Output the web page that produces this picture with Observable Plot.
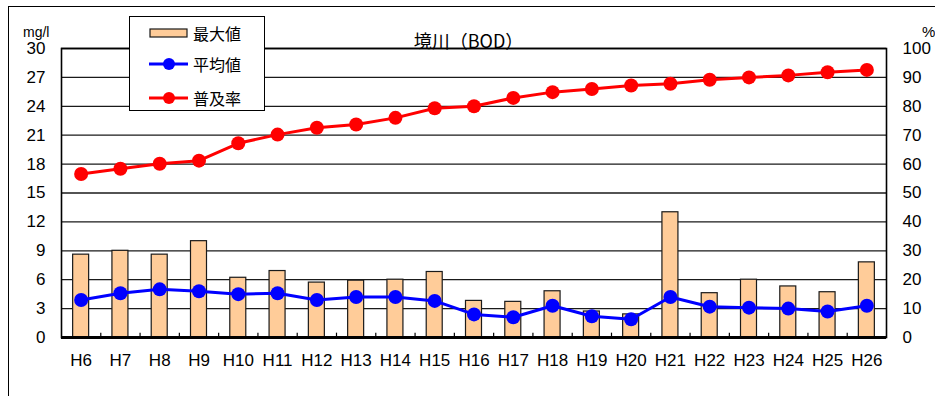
<!DOCTYPE html>
<html><head><meta charset="utf-8">
<script src="https://cdn.jsdelivr.net/npm/d3@7"></script>
<script src="https://cdn.jsdelivr.net/npm/@observablehq/plot@0.6"></script>
<style>
body{margin:0;background:#fff;}
#wrap{position:relative;width:935px;height:396px;overflow:hidden;font-family:"Liberation Sans",Arial,sans-serif;color:#000;}
#frame{position:absolute;left:8px;top:6px;width:1000px;height:500px;border:1.5px solid #000;box-sizing:border-box;}
#chart{position:absolute;left:0;top:0;}
.lbl{position:absolute;white-space:nowrap;line-height:1;}
#legend{position:absolute;left:129px;top:16px;width:136px;height:95px;border:1.5px solid #000;background:#fff;box-sizing:border-box;}
.row{position:absolute;left:0;height:20px;width:130px;}
.row span{position:absolute;left:63px;top:0;font-family:"Noto Sans CJK JP",sans-serif;font-size:16px;line-height:20px;}
.row svg{position:absolute;left:19px;top:0;}
</style></head><body>
<div id="wrap">
  <div id="frame"></div>
  <div id="chart"></div>
  <div class="lbl" style="left:23px;top:25px;font-size:14px;">mg/l</div>
  <div class="lbl" style="left:922px;top:24px;font-size:15px;">%</div>
  <div class="lbl" id="title" style="left:0;width:937px;text-align:center;top:31px;font-family:'Noto Sans CJK JP',sans-serif;font-size:18px;">境川（BOD）</div>
  <div id="legend"></div>
</div>
<script>
const years = ["H6","H7","H8","H9","H10","H11","H12","H13","H14","H15","H16","H17","H18","H19","H20","H21","H22","H23","H24","H25","H26"];
const maxVals = [8.6, 9.0, 8.6, 10.0, 6.2, 6.9, 5.7, 5.9, 6.0, 6.8, 3.8, 3.7, 4.8, 2.7, 2.4, 13.0, 4.6, 6.0, 5.3, 4.7, 7.8];
const avgVals = [3.9, 4.6, 5.0, 4.8, 4.5, 4.6, 3.9, 4.2, 4.2, 3.8, 2.4, 2.1, 3.3, 2.2, 1.9, 4.2, 3.2, 3.1, 3.0, 2.7, 3.3];
const rateVals = [56.6, 58.4, 60.1, 61.2, 67.2, 70.2, 72.6, 73.7, 76.0, 79.3, 80.0, 82.9, 84.9, 86.0, 87.2, 87.8, 89.2, 90.0, 90.7, 91.8, 92.6];
const leftTicks = [0,3,6,9,12,15,18,21,24,27,30];
const rightTickLabels = [0,10,20,30,40,50,60,70,80,90,100];
const seriesNames = ["最大値","平均値","普及率"];
const colors = {bar:"#FFCC99", avg:"#0000FF", rate:"#FF0000"};

const rows = years.map((y,i)=>({year:y, max:maxVals[i], avg:avgVals[i], rate:rateVals[i]}));
const W = 935, H = 396, mL = 61, mR = 49, mT = 48, mB = 59;
const bw = (W - mL - mR) / years.length;
const barW = 16;
const inset = (bw - barW) / 2;
const leftMax = leftTicks[leftTicks.length-1];
const rightMax = rightTickLabels[rightTickLabels.length-1];
const toLeft = v => v * leftMax / rightMax;

const chart = Plot.plot({
  width: W, height: H,
  marginLeft: mL, marginRight: mR, marginTop: mT, marginBottom: mB,
  style: {fontFamily: "'Liberation Sans', Arial, sans-serif", fontSize: "17px", color:"#000", background:"transparent"},
  x: {type:"band", domain: years, paddingInner: 0, paddingOuter: 0, round: false, label: null},
  y: {domain: [0, leftMax], label: null},
  marks: [
    Plot.ruleY(leftTicks.slice(1), {stroke:"#1a1a1a", strokeWidth:1.3}),
    Plot.barY(rows, {x:"year", y:"max", fill: colors.bar, stroke:"#1a1a1a", strokeWidth:1.2, insetLeft: inset, insetRight: inset}),
    Plot.ruleX(years.slice(1), {x: d=>d, dx: -bw/2, y1: 0, y2: 0.45, stroke:"#000", strokeWidth:1.2}),
    Plot.line(rows, {x:"year", y:"avg", stroke: colors.avg, strokeWidth:3}),
    Plot.dot(rows, {x:"year", y:"avg", fill: colors.avg, r:7, stroke:"none"}),
    Plot.line(rows, {x:"year", y: d=>toLeft(d.rate), stroke: colors.rate, strokeWidth:3}),
    Plot.dot(rows, {x:"year", y: d=>toLeft(d.rate), fill: colors.rate, r:7, stroke:"none"}),
    Plot.frame({stroke:"#000", strokeWidth:1.6}),
    Plot.ruleY([0], {stroke:"#000", strokeWidth:3}),
    Plot.axisY(leftTicks, {anchor:"left", tickSize:0, tickPadding:16, label:null, fontSize:17}),
    Plot.axisY(leftTicks, {anchor:"right", tickSize:0, tickPadding:16, label:null, fontSize:17,
      tickFormat: d => String(rightTickLabels[leftTicks.indexOf(d)])}),
    Plot.axisX(years, {anchor:"bottom", tickSize:0, tickPadding:16, label:null, fontSize:17})
  ]
});
document.getElementById("chart").appendChild(chart);

// legend
const legend = document.getElementById("legend");
const rowTops = [6, 37, 71];
seriesNames.forEach((name, i) => {
  const r = document.createElement("div");
  r.className = "row";
  r.style.top = rowTops[i] + "px";
  let sw;
  if (i === 0) {
    sw = `<svg width="40" height="20"><rect x="1" y="6" width="37" height="8" fill="${colors.bar}" stroke="#1a1a1a" stroke-width="1.2"/></svg>`;
  } else {
    const c = i === 1 ? colors.avg : colors.rate;
    sw = `<svg width="40" height="20"><line x1="0" y1="10" x2="39" y2="10" stroke="${c}" stroke-width="3"/><circle cx="20" cy="10" r="6" fill="${c}"/></svg>`;
  }
  r.innerHTML = sw + `<span>${name}</span>`;
  legend.appendChild(r);
});
</script>
</body></html>
